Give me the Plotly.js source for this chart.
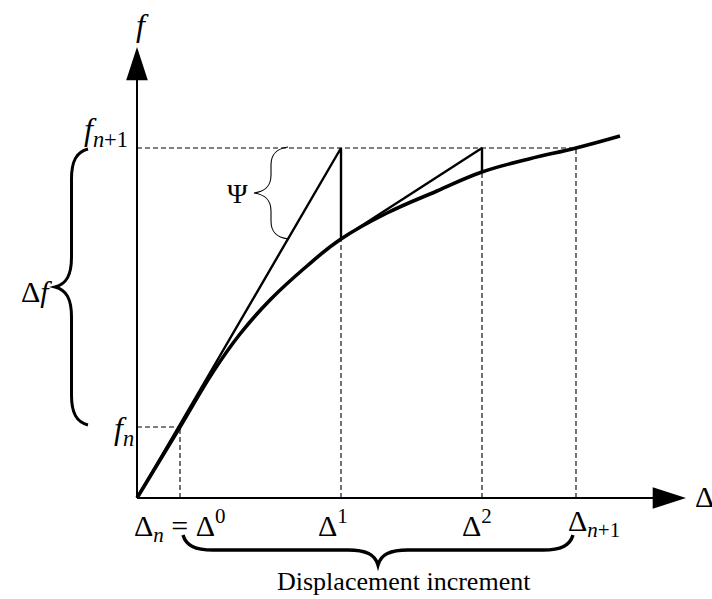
<!DOCTYPE html>
<html><head><meta charset="utf-8">
<script src="https://cdn.plot.ly/plotly-3.0.1.min.js"></script>
<style>html,body{margin:0;padding:0;background:#fff}#chart{width:712px;height:599px}</style>
</head><body><div id="chart"></div>
<script>
// Values (displacement horizontally, force vertically, picture units)
const curveDisp  = [0, 43, 76, 103, 133, 170, 204, 250, 300, 345, 392, 439, 483];
const curveForce = [0, 71, 126, 164, 198, 232, 259, 285, 307, 326, 339, 350, 362];
const stepDisp   = [43, 204, 345, 439];          // Δn = Δ0, Δ1, Δ2, Δn+1
const stepForce  = [71, 259, 326, 350];          // f on the curve at each step
const fN = 71, fN1 = 350;
const stepLabels  = ['Δ<sub><i>n</i></sub> = Δ<sup>0</sup>', 'Δ<sup>1</sup>', 'Δ<sup>2</sup>', 'Δ<sub><i>n</i>+1</sub>'];
const forceLabels = ['<i>f</i><sub><i>n</i></sub>', '<i>f</i><sub><i>n</i>+1</sub>'];
const axisLabels  = ['<i>f</i>', 'Δ'];
const braceLabels = ['Ψ', 'Δ<i>f</i>', 'Displacement increment'];

const FONT = 'Liberation Serif, DejaVu Serif, serif';
const yTop = 451, xEnd = 549;

// iteration path: initial stiffness line, drop to curve, tangent line, drop to curve
const iterX = [0, stepDisp[1], stepDisp[1], stepDisp[2], stepDisp[2]];
const iterY = [0, fN1, stepForce[1], fN1, stepForce[2]];

// dashed guide lines
const dX = [0, stepDisp[3], null, 0, stepDisp[0]];
const dY = [fN1, fN1, null, fN, fN];
stepDisp.forEach((d, i) => { dX.push(null, d, d); dY.push(null, 0, stepForce[i]); });

const traces = [
  {x: dX, y: dY, mode: 'lines', line: {color: '#000', width: 1.1, dash: '5px,3px'}, connectgaps: false},
  {x: [0, 0], y: [0, yTop - 10], mode: 'lines', line: {color: '#000', width: 2}},
  {x: [0, xEnd - 10], y: [0, 0], mode: 'lines', line: {color: '#000', width: 2}},
  {x: [0, xEnd], y: [yTop, 0], mode: 'markers', cliponaxis: false,
   marker: {symbol: 'arrow', size: 35, color: '#000', angle: [0, 90], line: {width: 0}}},
  {x: iterX, y: iterY, mode: 'lines', line: {color: '#000', width: 2.4}},
  {x: curveDisp, y: curveForce, mode: 'lines', line: {color: '#000', width: 3.6, shape: 'spline', smoothing: 1.2}}
];

// TikZ-like brace from p0 to p1, tip on side n (unit normal), amplitude a, end-curve length b
function brace(p0, p1, n, a, b) {
  const L = Math.hypot(p1[0]-p0[0], p1[1]-p0[1]);
  const u = [(p1[0]-p0[0])/L, (p1[1]-p0[1])/L];
  const P = (s, t) => (p0[0] + s*u[0] + t*n[0]).toFixed(2) + ',' + (p0[1] + s*u[1] + t*n[1]).toFixed(2);
  const m = L/2;
  return 'M' + P(0,0) +
    ' C' + P(.1*b,.35*a) + ' ' + P(.4*b,.5*a) + ' ' + P(b,.5*a) +
    ' L' + P(m-b,.5*a) +
    ' C' + P(m-.4*b,.5*a) + ' ' + P(m-.1*b,.65*a) + ' ' + P(m,a) +
    ' C' + P(m+.1*b,.65*a) + ' ' + P(m+.4*b,.5*a) + ' ' + P(m+b,.5*a) +
    ' L' + P(L-b,.5*a) +
    ' C' + P(L-.4*b,.5*a) + ' ' + P(L-.1*b,.35*a) + ' ' + P(L,0);
}
const shapes = [
  {type: 'path', xref: 'x', yref: 'y', path: brace([151, fN1 + 1], [151, stepForce[1]], [-1, 0], 34, 18), line: {color: '#000', width: 1.1}},
  {type: 'path', xref: 'x', yref: 'y', path: brace([-49, fN1 - 1], [-49, fN + 2], [-1, 0], 33, 30), line: {color: '#000', width: 3}},
  {type: 'path', xref: 'x', yref: 'y', path: brace([stepDisp[0] + 3, -37], [stepDisp[3] - 3, -37], [0, -1], 30, 30), line: {color: '#000', width: 3.4}}
];

const f = (size) => ({family: FONT, size: size, color: '#000'});
const ann = (o) => Object.assign({showarrow: false, xref: 'x', yref: 'y', font: f(30)}, o);
const annotations = [
  ann({text: axisLabels[0], x: 0, y: yTop, yanchor: 'bottom', xanchor: 'center', xshift: 5, yshift: 2, font: f(32)}),
  ann({text: axisLabels[1], x: xEnd, y: 0, xanchor: 'left', yanchor: 'middle', xshift: 7, yshift: 2}),
  ann({text: forceLabels[1], x: 0, y: fN1, xanchor: 'right', yanchor: 'bottom', xshift: -7, yshift: -6, font: f(32)}),
  ann({text: forceLabels[0], x: 0, y: fN, xanchor: 'right', yanchor: 'middle', xshift: -1, yshift: -3, font: f(32)}),
  ann({text: stepLabels[0], x: 0, y: 0, xanchor: 'left', yanchor: 'top', xshift: -5, yshift: -4}),
  ann({text: stepLabels[1], x: stepDisp[1], y: 0, xanchor: 'center', yanchor: 'top', xshift: -8, yshift: -4}),
  ann({text: stepLabels[2], x: stepDisp[2], y: 0, xanchor: 'center', yanchor: 'top', xshift: -5, yshift: -4}),
  ann({text: stepLabels[3], x: stepDisp[3], y: 0, xanchor: 'left', yanchor: 'top', xshift: -10, yshift: -4}),
  ann({text: braceLabels[0], x: 116, y: (fN1 + stepForce[1]) / 2, xanchor: 'right', yanchor: 'middle', xshift: -3, font: f(28)}),
  ann({text: braceLabels[1], x: -82, y: (fN1 + fN) / 2, xanchor: 'right', yanchor: 'middle', xshift: -1, yshift: -4}),
  ann({text: braceLabels[2], x: (stepDisp[0] + stepDisp[3]) / 2, y: -67, xanchor: 'center', yanchor: 'top', xshift: 26, yshift: 0, font: f(26)})
];

const layout = {
  width: 712, height: 599,
  margin: {l: 0, r: 0, t: 0, b: 0},
  paper_bgcolor: '#fff', plot_bgcolor: '#fff',
  showlegend: false,
  xaxis: {range: [-137, 575], visible: false, fixedrange: true},
  yaxis: {range: [-101, 498], visible: false, fixedrange: true},
  shapes: shapes,
  annotations: annotations
};
Plotly.newPlot('chart', traces, layout, {staticPlot: true, displayModeBar: false});
</script></body></html>
